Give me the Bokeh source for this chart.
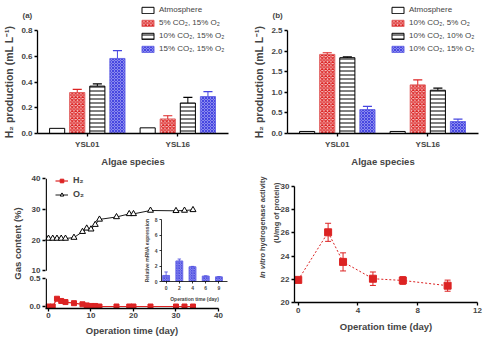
import numpy as np
from bokeh.plotting import figure
from bokeh.models import (GridBox, Legend, LegendItem, Label, FixedTicker, Range1d,
                          NumeralTickFormatter)
from bokeh.embed import file_html
from bokeh.resources import INLINE

FONT = "Liberation Sans"

# ---------------- data ----------------
species = ["YSL01", "YSL16"]

a_labels = ["Atmosphere", "5% CO₂, 15% O₂", "10% CO₂, 15% O₂", "15% CO₂, 15% O₂"]
a_atm = [0.040, 0.044]
a_atm_err = [0.0, 0.0]
a_co2_5 = [0.318, 0.113]
a_co2_5_err = [0.025, 0.025]
a_co2_10 = [0.368, 0.237]
a_co2_10_err = [0.017, 0.044]
a_co2_15 = [0.583, 0.287]
a_co2_15_err = [0.061, 0.039]

b_labels = ["Atmosphere", "10% CO₂, 5% O₂", "10% CO₂, 10% O₂", "10% CO₂, 15% O₂"]
b_atm = [0.05, 0.05]
b_atm_err = [0.0, 0.0]
b_o2_5 = [1.92, 1.18]
b_o2_5_err = [0.04, 0.12]
b_o2_10 = [1.84, 1.05]
b_o2_10_err = [0.02, 0.05]
b_o2_15 = [0.58, 0.29]
b_o2_15_err = [0.08, 0.06]

c_day = [0, 1, 2, 3, 4, 6, 8, 9, 10, 11, 12, 16, 19, 20, 24, 30, 32, 34]
c_h2 = [0.0, 0.0, 0.14, 0.10, 0.08, 0.06, 0.04, 0.02, 0.01, 0.01, 0.0, 0.0, 0.0, 0.0, 0.0, 0.0, 0.0, 0.0]
c_o2 = [20.5, 20.5, 20.5, 20.5, 20.5, 20.8, 22.7, 23.8, 23.5, 25.0, 26.7, 27.5, 28.5, 28.5, 29.6, 29.5, 29.6, 29.8]
c_yticks = [0.0, 0.5, 10, 20, 30, 40]
c_ytick_labels = ["0.0", "0.5", "10", "20", "30", "40"]

inset_days = ["0", "2", "4", "6", "9"]
inset_expr = [0.78, 2.65, 1.9, 0.7, 0.6]
inset_err = [0.45, 0.25, 0.05, 0.03, 0.03]

d_day = [0, 2, 3, 5, 7, 10]
d_act = [21.95, 26.05, 23.5, 22.05, 21.9, 21.45]
d_err = [0.15, 0.78, 0.78, 0.58, 0.33, 0.48]

RED = "#dc2323"
BLUE = "#4646e0"


def style_axes(p, tick_fs="8px", label_fs="9.5px", lw=1.3, tick_out=3):
    for ax in list(p.xaxis) + list(p.yaxis):
        ax.axis_line_width = lw
        ax.major_tick_line_width = lw
        ax.major_tick_in = 0
        ax.major_tick_out = tick_out
        ax.minor_tick_line_color = None
        ax.major_label_text_font = FONT
        ax.major_label_text_font_style = "bold"
        ax.major_label_text_font_size = tick_fs
        ax.axis_label_text_font = FONT
        ax.axis_label_text_font_style = "bold"
        ax.axis_label_text_font_size = label_fs
        ax.major_label_standoff = 2
        ax.axis_label_standoff = 3
    p.xgrid.visible = False
    p.ygrid.visible = False
    p.outline_line_color = None


def overlay(w, h):
    o = figure(width=w, height=h, output_backend="svg", toolbar_location=None, title=None,
               x_axis_type=None, y_axis_type=None, x_range=Range1d(0, 1), y_range=Range1d(0, 1),
               min_border=0, min_border_left=0, min_border_right=0, min_border_top=0,
               min_border_bottom=0)
    o.outline_line_color = None
    o.background_fill_alpha = 0
    o.border_fill_alpha = 0
    return o


STYLES = [
    dict(fill_color="white", line_color="black"),
    dict(fill_color="#f6c8c8", line_color="#e06060", hatch_pattern="diagonal_cross",
         hatch_color=RED, hatch_scale=3.5, hatch_weight=1.1),
    dict(fill_color="white", line_color="black", hatch_pattern="horizontal_line",
         hatch_color="black", hatch_scale=4, hatch_weight=1),
    dict(fill_color="#8a8aee", line_color="#6a6ae6", hatch_pattern="diagonal_cross",
         hatch_color=BLUE, hatch_scale=3, hatch_weight=1),
]
ERR_COL = ["black", RED, "black", BLUE]
PITCH = 0.222
BAR_W = 0.167
OFFSETS = [-1.5, -0.5, 0.5, 1.5]


def bar_panel(ymax, ystep, series, errs, ylabel):
    p = figure(width=250, height=169, output_backend="svg", toolbar_location=None, title=None,
               x_range=Range1d(-0.55, 1.56), y_range=Range1d(0, ymax),
               min_border_left=37, min_border_right=22, min_border_top=30, min_border_bottom=31)
    xs0 = np.arange(len(species))
    for i, (vals, err) in enumerate(zip(series, errs)):
        x = xs0 + OFFSETS[i] * PITCH
        top = np.array(vals)
        e = np.array(err)
        p.vbar(x=x, top=top, width=BAR_W, bottom=0, line_width=1, **STYLES[i])
        if e.max() > 0:
            p.segment(x0=x, y0=top, x1=x, y1=top + e, line_color=ERR_COL[i], line_width=1)
            cw = BAR_W * 0.3
            p.segment(x0=x - cw, y0=top + e, x1=x + cw, y1=top + e, line_color=ERR_COL[i], line_width=1.2)
    p.xaxis.ticker = FixedTicker(ticks=list(range(len(species))))
    p.xaxis.major_label_overrides = {i: s for i, s in enumerate(species)}
    p.yaxis.ticker = FixedTicker(ticks=list(np.round(np.arange(0, ymax + 1e-9, ystep), 2)))
    p.yaxis.formatter = NumeralTickFormatter(format="0.0")
    p.xaxis.axis_label = "Algae species"
    p.yaxis.axis_label = ylabel
    style_axes(p)
    p.yaxis.axis_label_text_font_size = "10.5px"
    p.xaxis.major_label_standoff = 3
    p.xaxis.axis_label_standoff = 4
    return p


def bar_legend(labels, series, w, h):
    # legend-only figure: its renderers carry the panel's data but stay hidden
    o = overlay(w, h)
    items = []
    xs0 = np.arange(len(species))
    for i, (lab, vals) in enumerate(zip(labels, series)):
        r = o.vbar(x=xs0 + OFFSETS[i] * PITCH, top=vals, width=BAR_W, bottom=0, line_width=1,
                   visible=False, **STYLES[i])
        items.append(LegendItem(label=lab, renderers=[r]))
    o.add_layout(Legend(items=items, location="top_left", padding=0, margin=3, spacing=4,
                        glyph_width=15, glyph_height=8, label_standoff=4,
                        label_text_font=FONT, label_text_font_size="8px",
                        inactive_fill_alpha=0,
                        border_line_color=None, background_fill_alpha=0))
    return o


def tag(text, w, h):
    o = overlay(w, h)
    o.add_layout(Label(x=8, y=h - 11, x_units="screen", y_units="screen", text=text,
                       text_font=FONT, text_font_style="bold", text_font_size="8px",
                       text_baseline="middle"))
    return o


a_series = [a_atm, a_co2_5, a_co2_10, a_co2_15]
b_series = [b_atm, b_o2_5, b_o2_10, b_o2_15]
pa = bar_panel(0.8, 0.2, a_series,
               [a_atm_err, a_co2_5_err, a_co2_10_err, a_co2_15_err], "H₂ production (mL L⁻¹)")
pb = bar_panel(2.5, 0.5, b_series,
               [b_atm_err, b_o2_5_err, b_o2_10_err, b_o2_15_err], "H₂ production (mL L⁻¹)")


# ---------------- panel c (broken axis) ----------------
def brk(v):
    v = np.asarray(v, dtype=float)
    return np.where(v <= 0.5, v / 0.5 * 28.0, 36.0 + (v - 10.0) * 3.1)


H2_LINE = dict(line_color=RED, line_width=1.2)
H2_MARK = dict(marker="square", size=5, fill_color=RED, line_color=RED)
O2_LINE = dict(line_color="black", line_width=0.9)
O2_MARK = dict(marker="triangle", size=6, fill_color="white", line_color="black", line_width=1)

cx0 = -0.7
pc = figure(width=248, height=169, output_backend="svg", toolbar_location=None, title=None,
            x_range=Range1d(cx0, 40), y_range=Range1d(-2, 129),
            min_border_left=44, min_border_right=31, min_border_top=9, min_border_bottom=29)
pc.line(c_day, brk(c_o2), **O2_LINE)
pc.scatter(c_day, brk(c_o2), **O2_MARK)
pc.line(c_day, brk(c_h2), **H2_LINE)
pc.scatter(c_day, brk(c_h2), **H2_MARK)
tick_pos = [int(round(t)) for t in brk(c_yticks)]
pc.yaxis.ticker = FixedTicker(ticks=tick_pos)
pc.yaxis.major_label_overrides = {t: s for t, s in zip(tick_pos, c_ytick_labels)}
pc.xaxis.ticker = FixedTicker(ticks=[0, 10, 20, 30, 40])
pc.xaxis.axis_label = "Operation time (day)"
pc.yaxis.axis_label = "Gas content (%)"
style_axes(pc)
pc.xaxis.major_label_standoff = 1
pc.xaxis.axis_label_standoff = 4
pc.yaxis.axis_line_color = None
ax_x = cx0 + 0.18
pc.segment(x0=[ax_x, ax_x], y0=[-2, float(brk([10])[0])], x1=[ax_x, ax_x],
           y1=[float(brk([0.5])[0]), 129], line_color="black", line_width=1.3)

c_leg = overlay(48, 31)
lh = c_leg.line(c_day, c_h2, visible=False, **H2_LINE)
sh = c_leg.scatter(c_day, c_h2, visible=False, **H2_MARK)
lo = c_leg.line(c_day, c_o2, visible=False, **O2_LINE)
so = c_leg.scatter(c_day, c_o2, visible=False, **O2_MARK)
c_leg.add_layout(Legend(items=[LegendItem(label="H₂", renderers=[lh, sh]),
                               LegendItem(label="O₂", renderers=[lo, so])],
                        location="top_left", padding=0, margin=3, spacing=4, glyph_width=13,
                        glyph_height=9, label_standoff=5, label_text_font=FONT,
                        label_text_font_style="bold", label_text_font_size="9px",
                        inactive_fill_alpha=0,
                        border_line_color=None, background_fill_alpha=0))

# ---------------- inset ----------------
pin = figure(width=95, height=90, output_backend="svg", toolbar_location=None, title=None,
             x_range=Range1d(-0.35, 4.65), y_range=Range1d(0, 8),
             min_border_left=20, min_border_right=8, min_border_top=5, min_border_bottom=18)
ix = np.arange(len(inset_days))
pin.vbar(x=ix, top=inset_expr, width=0.52, bottom=0, fill_color="#8a8aee", line_color="#6a6ae6",
         hatch_pattern="diagonal_cross", hatch_color=BLUE, hatch_scale=2.5, hatch_weight=0.8)
itop = np.array(inset_expr) + np.array(inset_err)
pin.segment(x0=ix, y0=inset_expr, x1=ix, y1=itop, line_color=BLUE, line_width=0.8)
pin.segment(x0=ix - 0.13, y0=itop, x1=ix + 0.13, y1=itop, line_color=BLUE, line_width=0.8)
pin.xaxis.ticker = FixedTicker(ticks=list(ix))
pin.xaxis.major_label_overrides = {int(i): d for i, d in zip(ix, inset_days)}
pin.yaxis.ticker = FixedTicker(ticks=[0, 2, 4, 6, 8])
pin.xaxis.axis_label = "Operation time (day)"
pin.yaxis.axis_label = "Relative mRNA expression"
style_axes(pin, tick_fs="5px", label_fs="5px", lw=0.8, tick_out=2)
pin.xaxis.axis_label_standoff = 3
pin.yaxis.axis_label_standoff = 2
pin.background_fill_alpha = 0
pin.border_fill_alpha = 0

# ---------------- panel d ----------------
pd_ = figure(width=248, height=167, output_backend="svg", toolbar_location=None, title=None,
             x_range=Range1d(-0.25, 12), y_range=Range1d(20, 30),
             min_border_left=43, min_border_right=22, min_border_top=16, min_border_bottom=35)
dd = np.array(d_day, dtype=float)
da = np.array(d_act)
de = np.array(d_err)
pd_.line(dd, da, line_color=RED, line_width=1, line_dash="2 2")
pd_.segment(x0=dd, y0=da - de, x1=dd, y1=da + de, line_color=RED, line_width=1)
pd_.segment(x0=dd - 0.2, y0=da + de, x1=dd + 0.2, y1=da + de, line_color=RED, line_width=1)
pd_.segment(x0=dd - 0.2, y0=da - de, x1=dd + 0.2, y1=da - de, line_color=RED, line_width=1)
pd_.scatter(dd, da, marker="square", size=7, fill_color=RED, line_color=RED)
pd_.xaxis.ticker = FixedTicker(ticks=[0, 4, 8, 12])
pd_.yaxis.ticker = FixedTicker(ticks=[20, 22, 24, 26, 28, 30])
pd_.xaxis.axis_label = "Operation time (day)"
style_axes(pd_)
pd_.xaxis.axis_label_standoff = 5

d_lab = overlay(38, 128)
lab_kw = dict(x_units="screen", y_units="screen", angle=np.pi / 2, text_font=FONT,
              text_font_size="7.5px", text_baseline="middle", text_align="left")
d_lab.add_layout(Label(x=7, y=22.5, text="In vitro", text_font_style="bold italic", **lab_kw))
d_lab.add_layout(Label(x=7, y=49.5, text="hydrogenase activity", text_font_style="bold", **lab_kw))
lab_kw["text_align"] = "right"
d_lab.add_layout(Label(x=21, y=118, text="(U/mg of protein)", text_font_style="bold", **lab_kw))

# ---------------- placement (absolute boxes -> grid tracks) ----------------
a_leg = bar_legend(a_labels, a_series, 111, 54)
b_leg = bar_legend(b_labels, b_series, 111, 54)
a_tag = tag("(a)", 22, 16)
b_tag = tag("(b)", 22, 16)

boxes = [
    (pa, 0, 0), (pb, 250, 0), (pc, 1, 169), (pin, 140, 214), (pd_, 251, 170),
    (a_leg, 137, 2), (b_leg, 387, 2), (a_tag, 14, 4), (b_tag, 264, 4),
    (c_leg, 52, 172), (d_lab, 255, 172),
]
xs = sorted({0, 500} | {x for f, x, y in boxes} | {x + f.width for f, x, y in boxes})
ys = sorted({0, 338} | {y for f, x, y in boxes} | {y + f.height for f, x, y in boxes})
children = []
for f, x, y in boxes:
    c0 = xs.index(x)
    c1 = xs.index(x + f.width)
    r0 = ys.index(y)
    r1 = ys.index(y + f.height)
    children.append((f, r0, c0, r1 - r0, c1 - c0))

layout = GridBox(children=children,
                 rows=[f"{b - a}px" for a, b in zip(ys[:-1], ys[1:])],
                 cols=[f"{b - a}px" for a, b in zip(xs[:-1], xs[1:])],
                 spacing=0)

open("out.html", "w").write(file_html(layout, INLINE))
